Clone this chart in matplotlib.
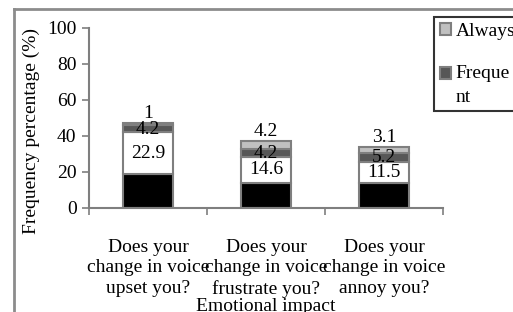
import numpy as np
import matplotlib.pyplot as plt
from matplotlib.patches import Rectangle
from matplotlib.legend_handler import HandlerPatch

plt.rcParams['font.family'] = ['Liberation Serif', 'DejaVu Serif']

# data
categories = ['Does your\nchange in voice\nupset you?',
              'Does your\nchange in voice\nfrustrate you?',
              'Does your\nchange in voice\nannoy you?']
never_vals = [19.1, 14.0, 14.0]        # black base, not labelled
sometimes_vals = [22.9, 14.6, 11.5]    # white
frequent_vals = [4.2, 4.2, 5.2]        # dark grey
always_vals = [1.0, 4.2, 3.1]          # light grey

W, H = 513, 312
fig = plt.figure(figsize=(W / 100, H / 100), dpi=100)
ax = fig.add_axes([89 / W, 1 - 208 / H, (443 - 89) / W, (208 - 28) / H])

x = np.arange(len(categories))
bw = 0.42
edge = '#7f7f7f'
kw = dict(width=bw, edgecolor=edge, linewidth=1.5)

b0 = np.array(never_vals)
b1 = b0 + sometimes_vals
b2 = b1 + frequent_vals
b3 = b2 + always_vals

ax.bar(x, never_vals, color='black', **kw)
ax.bar(x, sometimes_vals, bottom=b0, color='white', **kw)
bars_freq = ax.bar(x, frequent_vals, bottom=b1, color='#575757', **kw)
bars_alw = ax.bar(x, always_vals, bottom=b2, color='#c0c0c0', **kw)

fs = 14
for i in range(len(x)):
    ax.text(x[i], b0[i] + sometimes_vals[i] / 2, f'{sometimes_vals[i]:g}',
            ha='center', va='center', fontsize=fs)
    ax.text(x[i], b1[i] + frequent_vals[i] / 2 - 0.3, f'{frequent_vals[i]:g}',
            ha='center', va='center', fontsize=fs)
    ax.text(x[i], b3[i] + 0.6, f'{always_vals[i]:g}',
            ha='center', va='bottom', fontsize=fs)

ax.set_xlim(-0.5, 2.5)
ax.set_ylim(0, 100)
ax.set_yticks([0, 20, 40, 60, 80, 100])
ax.tick_params(axis='y', labelsize=fs, color=edge, length=5, width=1.2, pad=4)
ax.set_xticks([-0.5, 0.5, 1.5, 2.5])
ax.set_xticklabels([])
ax.tick_params(axis='x', which='major', color=edge, length=5, width=1.2)
ax.set_xticks(x, minor=True)
ax.set_xticklabels(categories, minor=True, fontsize=fs, linespacing=1.28)
ax.tick_params(axis='x', which='minor', length=0, pad=22)

for s in ['top', 'right']:
    ax.spines[s].set_visible(False)
for s in ['left', 'bottom']:
    ax.spines[s].set_color(edge)
    ax.spines[s].set_linewidth(1.5)

ax.set_ylabel('Frequency percentage (%)', fontsize=fs)
ax.yaxis.set_label_coords(-49 / (443 - 89), 0.43)
ax.set_xlabel('Emotional impact', fontsize=fs, labelpad=0)


# legend square for the two-line label sits on its first line
def raised_square(legend, orig_handle, xdescent, ydescent, width, height, fontsize):
    return Rectangle((-xdescent, -ydescent + 0.6 * fontsize), width, height)


h_freq = bars_freq.patches[0]
h_alw = bars_alw.patches[0]
leg = ax.legend([h_alw, h_freq], ['Always', 'Freque\nnt'],
                handler_map={h_freq: HandlerPatch(patch_func=raised_square)},
                loc='upper left', bbox_to_anchor=(434 / W, 1 - 17 / H),
                bbox_transform=fig.transFigure, fontsize=fs,
                frameon=True, fancybox=False, edgecolor='black',
                handlelength=0.55, handleheight=0.55, handletextpad=0.25,
                labelspacing=1.3, borderpad=0.3, borderaxespad=0)
leg.get_frame().set_linewidth(1.5)
for t in leg.get_texts():
    t.set_linespacing(1.5)

# outer chart frame (left and top edges visible)
fig.add_artist(plt.Line2D([14 / W, 14 / W], [0, 1 - 9 / H],
                          color='#8c8c8c', lw=2, transform=fig.transFigure))
fig.add_artist(plt.Line2D([14 / W, 1], [1 - 9 / H, 1 - 9 / H],
                          color='#8c8c8c', lw=2, transform=fig.transFigure))

fig.savefig('out.png', dpi=100)
